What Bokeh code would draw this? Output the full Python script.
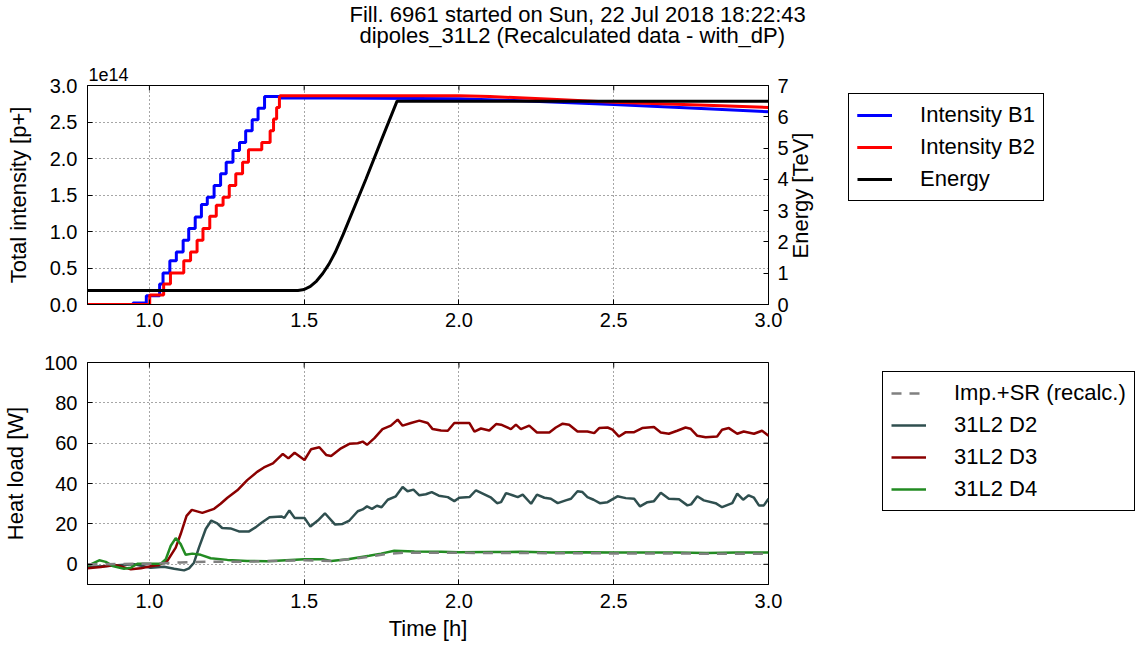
import math
from bokeh.plotting import figure
from bokeh.models import (Range1d, LinearAxis, FixedTicker, PrintfTickFormatter,
                          Legend, LegendItem, Title, Label)
from bokeh.layouts import column
from bokeh.embed import file_html
from bokeh.resources import INLINE

FONT = "Liberation Sans"
TICK_SIZE = "20px"
LABEL_SIZE = "22px"

# ---------------- data ----------------
x_ticks = [1.0, 1.5, 2.0, 2.5, 3.0]
int_ticks = [0.0, 0.5, 1.0, 1.5, 2.0, 2.5, 3.0]
energy_ticks = [0, 1, 2, 3, 4, 5, 6, 7]
heat_ticks = [0, 20, 40, 60, 80, 100]

# Intensity B1 (units of 1e14 p+): injection steps, then coast
b1_ramp_t = [0.800, 0.947, 0.990, 1.033, 1.044, 1.066, 1.087, 1.109, 1.127, 1.148, 1.168,
             1.187, 1.209, 1.230, 1.248, 1.270, 1.291, 1.311, 1.332, 1.351, 1.372, 1.420]
b1_ramp_v = [0.00, 0.02, 0.12, 0.28, 0.43, 0.60, 0.72, 0.88, 1.04, 1.20, 1.37,
             1.47, 1.63, 1.79, 1.95, 2.11, 2.22, 2.38, 2.53, 2.69, 2.85, 2.83]
b1_coast_t = [1.420, 1.600, 2.000, 2.200, 2.500, 2.800, 3.000]
b1_coast_v = [2.83, 2.83, 2.82, 2.79, 2.74, 2.68, 2.64]

# Intensity B2 (units of 1e14 p+)
b2_ramp_t = [0.800, 1.001, 1.046, 1.068, 1.111, 1.133, 1.154, 1.173, 1.195, 1.216, 1.238,
             1.258, 1.279, 1.301, 1.320, 1.363, 1.390, 1.401, 1.411, 1.420]
b2_ramp_v = [0.00, 0.13, 0.28, 0.43, 0.60, 0.72, 0.88, 1.04, 1.21, 1.36, 1.47,
             1.63, 1.79, 1.95, 2.12, 2.22, 2.38, 2.54, 2.70, 2.86]
b2_coast_t = [1.420, 2.000, 2.100, 2.300, 2.500, 2.800, 3.000]
b2_coast_v = [2.86, 2.86, 2.85, 2.81, 2.77, 2.73, 2.70]

# Energy [TeV]
en_t = [0.800, 1.480, 1.500, 1.520, 1.540, 1.560, 1.580, 1.600, 1.626, 1.700, 1.750,
        1.800, 3.000]
en_v = [0.45, 0.45, 0.48, 0.58, 0.75, 0.99, 1.29, 1.66, 2.24, 4.02, 5.27,
        6.50, 6.50]

# Heat loads [W]
imp_t = [0.800, 1.000, 1.100, 1.150, 1.300, 1.500, 1.590, 1.650, 1.710, 1.760, 1.820,
         2.000, 2.500, 3.000]
imp_v = [0.0, 0.3, 0.9, 1.2, 1.3, 2.0, 1.6, 2.6, 3.8, 5.0, 5.7,
         5.7, 5.4, 5.2]

d2_t = [0.800, 0.865, 0.908, 0.951, 1.004, 1.047, 1.080, 1.112, 1.128, 1.144, 1.160,
        1.182, 1.200, 1.219, 1.235, 1.262, 1.289, 1.322, 1.343, 1.361, 1.388, 1.426,
        1.436, 1.452, 1.469, 1.501, 1.520, 1.544, 1.567, 1.600, 1.624, 1.646, 1.673,
        1.689, 1.703, 1.719, 1.735, 1.750, 1.770, 1.796, 1.818, 1.834, 1.853, 1.872,
        1.893, 1.912, 1.935, 1.964, 1.985, 2.001, 2.034, 2.055, 2.082, 2.104, 2.123,
        2.136, 2.152, 2.173, 2.190, 2.206, 2.233, 2.252, 2.276, 2.297, 2.319, 2.345,
        2.362, 2.383, 2.399, 2.415, 2.435, 2.455, 2.480, 2.512, 2.539, 2.566, 2.585,
        2.609, 2.630, 2.652, 2.678, 2.711, 2.738, 2.750, 2.770, 2.791, 2.829, 2.850,
        2.883, 2.899, 2.918, 2.936, 2.953, 2.969, 2.985, 3.000]
d2_v = [-1.3, -0.8, -0.3, 0.0, -1.7, -1.2, -2.2, -3.0, -2.0, 0.8, 8.3,
        17.5, 21.7, 20.3, 18.0, 17.8, 16.3, 16.3, 18.3, 20.5, 23.3, 23.7,
        23.0, 26.7, 23.0, 23.0, 18.7, 21.7, 25.3, 19.7, 20.0, 21.7, 26.3,
        27.2, 28.7, 27.5, 29.0, 28.3, 32.0, 33.7, 38.3, 36.2, 37.0, 34.2,
        34.7, 35.8, 34.0, 33.3, 31.3, 33.0, 33.3, 36.7, 34.7, 33.0, 30.3,
        30.8, 35.3, 34.2, 33.3, 34.5, 30.0, 34.5, 33.0, 32.5, 30.3, 31.7,
        32.5, 36.2, 35.8, 33.3, 32.0, 30.3, 30.8, 33.7, 32.8, 32.5, 28.7,
        30.8, 31.3, 35.5, 32.5, 32.2, 29.2, 29.7, 33.7, 31.7, 30.3, 28.3,
        30.3, 35.0, 32.0, 34.2, 33.0, 29.2, 29.2, 32.5]

d3_t = [0.800, 0.843, 0.886, 0.908, 0.940, 0.972, 1.004, 1.031, 1.058, 1.085, 1.101,
        1.120, 1.137, 1.171, 1.209, 1.230, 1.252, 1.284, 1.316, 1.348, 1.370, 1.399,
        1.431, 1.449, 1.469, 1.501, 1.522, 1.549, 1.571, 1.587, 1.619, 1.646, 1.673,
        1.689, 1.703, 1.727, 1.753, 1.780, 1.802, 1.818, 1.845, 1.872, 1.899, 1.915,
        1.942, 1.964, 1.985, 2.034, 2.050, 2.071, 2.098, 2.120, 2.136, 2.168, 2.184,
        2.200, 2.227, 2.252, 2.292, 2.313, 2.335, 2.356, 2.383, 2.415, 2.437, 2.453,
        2.480, 2.496, 2.517, 2.539, 2.566, 2.592, 2.630, 2.652, 2.678, 2.705, 2.732,
        2.748, 2.770, 2.797, 2.834, 2.850, 2.872, 2.899, 2.920, 2.953, 2.979, 3.000]
d3_v = [-2.0, -1.3, -0.3, -1.0, -2.5, -2.0, -1.0, -0.3, 1.7, 8.3, 15.0,
        24.0, 27.0, 25.5, 27.5, 30.0, 33.0, 36.7, 41.7, 45.8, 48.0, 50.0,
        54.7, 52.5, 55.3, 51.7, 57.0, 58.0, 54.2, 53.7, 57.5, 59.7, 60.0,
        60.8, 59.2, 62.5, 67.0, 68.7, 71.7, 68.7, 70.0, 71.2, 70.0, 67.0,
        66.3, 66.2, 70.0, 70.0, 65.8, 67.3, 66.3, 69.5, 69.2, 67.0, 69.2,
        67.0, 68.7, 65.3, 65.3, 67.8, 69.7, 69.2, 65.8, 65.8, 65.0, 67.5,
        67.8, 66.7, 63.3, 65.5, 65.5, 67.5, 68.0, 65.3, 64.7, 66.2, 67.8,
        67.2, 63.7, 63.0, 63.3, 66.7, 67.5, 64.7, 65.8, 64.7, 66.2, 63.7]

d4_t = [0.800, 0.838, 0.859, 0.881, 0.918, 0.940, 0.961, 1.004, 1.037, 1.053, 1.069,
        1.085, 1.101, 1.117, 1.139, 1.166, 1.198, 1.252, 1.316, 1.381, 1.501, 1.560,
        1.587, 1.641, 1.710, 1.748, 1.791, 1.856, 1.942, 2.000, 2.100, 2.200, 2.300,
        2.400, 2.500, 2.600, 2.700, 2.800, 2.900, 3.000]
d4_v = [-0.8, 2.0, 1.2, -0.8, -2.2, -1.7, 0.3, 0.3, 0.3, 2.5, 9.2,
        13.0, 10.0, 4.7, 5.3, 4.7, 3.0, 2.2, 1.7, 1.5, 2.5, 2.5,
        1.7, 2.5, 4.2, 5.3, 6.7, 6.3, 6.2, 6.0, 6.1, 6.2, 5.9,
        6.0, 5.8, 5.8, 5.9, 5.6, 5.9, 5.8]

TITLE_1 = "Fill. 6961 started on Sun, 22 Jul 2018 18:22:43"
TITLE_2 = "dipoles_31L2 (Recalculated data - with_dP)"
SCALE_TEXT = "1e14"
ENERGY_LABEL = "Energy [TeV]"


# ---------------- helpers ----------------
def style_axis(ax, ticks, fmt=None):
    ax.ticker = FixedTicker(ticks=ticks)
    if fmt:
        ax.formatter = PrintfTickFormatter(format=fmt)
    ax.major_tick_in = 5
    ax.major_tick_out = 0
    ax.minor_tick_line_color = None
    ax.axis_line_color = "black"
    ax.major_tick_line_color = "black"
    ax.major_label_text_font = FONT
    ax.major_label_text_font_size = TICK_SIZE
    ax.major_label_text_color = "black"
    ax.axis_label_text_font = FONT
    ax.axis_label_text_font_size = LABEL_SIZE
    ax.axis_label_text_font_style = "normal"
    ax.axis_label_text_color = "black"


def style_fig(p):
    p.outline_line_color = "black"
    p.outline_line_width = 1
    p.outline_line_alpha = 1
    p.background_fill_color = "white"
    p.border_fill_color = "white"
    for g in (p.xgrid[0], p.ygrid[0]):
        g.grid_line_color = "black"
        g.grid_line_alpha = 0.7
        g.grid_line_dash = "1 3"
        g.grid_line_width = 1


def make_legend(items, loc):
    lg = Legend(items=items, location=loc)
    lg.border_line_color = "black"
    lg.border_line_width = 1
    lg.border_line_alpha = 1
    lg.background_fill_alpha = 1
    lg.label_text_font = FONT
    lg.label_text_font_size = LABEL_SIZE
    lg.label_text_color = "black"
    lg.glyph_width = 35
    lg.glyph_height = 22
    lg.label_height = 22
    lg.label_standoff = 28
    lg.spacing = 6
    lg.padding = 8
    lg.margin = 0
    return lg


def title(text, size, offset, standoff):
    return Title(text=text, align="left", offset=offset, standoff=standoff,
                 text_font=FONT, text_font_size=size, text_font_style="normal",
                 text_color="black")


# ---------------- top figure ----------------
p1 = figure(frame_width=681, frame_height=219,
            min_border_left=87, min_border_right=361,
            min_border_top=85, min_border_bottom=34,
            x_range=Range1d(0.8, 3.0), y_range=Range1d(0.0, 3.0),
            output_backend="svg", toolbar_location=None)
p1.title = None
p1.extra_y_ranges = {"energy": Range1d(0, 7)}
style_fig(p1)
p1.xgrid.ticker = FixedTicker(ticks=x_ticks)
p1.ygrid.ticker = FixedTicker(ticks=int_ticks)

p1.add_layout(title(SCALE_TEXT, "18px", 1, 10), "above")
p1.add_layout(title(TITLE_2, "22px", 272, 26), "above")
p1.add_layout(title(TITLE_1, "22px", 262, -38), "above")

style_axis(p1.xaxis[0], x_ticks, "%.1f")
p1.xaxis[0].major_label_standoff = 8
style_axis(p1.yaxis[0], int_ticks, "%.1f")
p1.yaxis[0].axis_label = "Total intensity [p+]"
p1.yaxis[0].major_label_standoff = 10
p1.yaxis[0].axis_label_standoff = 16

ax_e = LinearAxis(y_range_name="energy")
style_axis(ax_e, energy_ticks, "%d")
ax_e.major_label_standoff = 9
p1.add_layout(ax_e, "right")

p1.add_layout(Label(x=9, y=109, x_units="screen", y_units="screen", text=ENERGY_LABEL,
                    angle=math.pi / 2, text_align="center", text_baseline="middle",
                    text_font=FONT, text_font_size=LABEL_SIZE, text_color="black"), "right")

# tick marks mirrored on the top edge
p1.scatter(x_ticks, [int_ticks[-1]] * len(x_ticks), marker="dash", angle=math.pi / 2,
           size=10, line_color="black", line_width=1)

r_b1 = p1.step(b1_ramp_t, b1_ramp_v, mode="after", line_color="#0000ff", line_width=3)
r_b1c = p1.line(b1_coast_t, b1_coast_v, line_color="#0000ff", line_width=3)
r_b2 = p1.step(b2_ramp_t, b2_ramp_v, mode="after", line_color="#ff0000", line_width=3)
r_b2c = p1.line(b2_coast_t, b2_coast_v, line_color="#ff0000", line_width=3)
r_en = p1.line(en_t, en_v, y_range_name="energy", line_color="black", line_width=3)

leg1 = make_legend([LegendItem(label="Intensity B1", renderers=[r_b1, r_b1c]),
                    LegendItem(label="Intensity B2", renderers=[r_b2, r_b2c]),
                    LegendItem(label="Energy", renderers=[r_en])], (-278, 103))
p1.add_layout(leg1, "right")

# ---------------- bottom figure ----------------
p2 = figure(frame_width=681, frame_height=222,
            min_border_left=87, min_border_right=361,
            min_border_top=24, min_border_bottom=60,
            x_range=Range1d(0.8, 3.0), y_range=Range1d(-10, 100),
            output_backend="svg", toolbar_location=None)
p2.title = None
style_fig(p2)
p2.xgrid.ticker = FixedTicker(ticks=x_ticks)
p2.ygrid.ticker = FixedTicker(ticks=heat_ticks)

style_axis(p2.xaxis[0], x_ticks, "%.1f")
p2.xaxis[0].axis_label = "Time [h]"
p2.xaxis[0].major_label_standoff = 9
p2.xaxis[0].axis_label_standoff = 5
style_axis(p2.yaxis[0], heat_ticks, "%d")
p2.yaxis[0].axis_label = "Heat load [W]"
p2.yaxis[0].major_label_standoff = 10
p2.yaxis[0].axis_label_standoff = 13

# tick marks mirrored on the top and right edges
p2.scatter(x_ticks, [heat_ticks[-1]] * len(x_ticks), marker="dash", angle=math.pi / 2,
           size=10, line_color="black", line_width=1)
p2.scatter([x_ticks[-1]] * len(heat_ticks), heat_ticks, marker="dash",
           size=10, line_color="black", line_width=1)

r_d2 = p2.line(d2_t, d2_v, line_color="#2f4f4f", line_width=2.5)
r_d3 = p2.line(d3_t, d3_v, line_color="#8b0000", line_width=2.5)
r_d4 = p2.line(d4_t, d4_v, line_color="#228b22", line_width=2.5)
r_imp = p2.line(imp_t, imp_v, line_color="#808080", line_width=2.5, line_dash="10 8")

leg2 = make_legend([LegendItem(label="Imp.+SR (recalc.)", renderers=[r_imp]),
                    LegendItem(label="31L2 D2", renderers=[r_d2]),
                    LegendItem(label="31L2 D3", renderers=[r_d3]),
                    LegendItem(label="31L2 D4", renderers=[r_d4])], (114, 73))
p2.add_layout(leg2, "right")

layout = column(p1, p2, spacing=0)
open("out.html", "w").write(file_html(layout, INLINE))
